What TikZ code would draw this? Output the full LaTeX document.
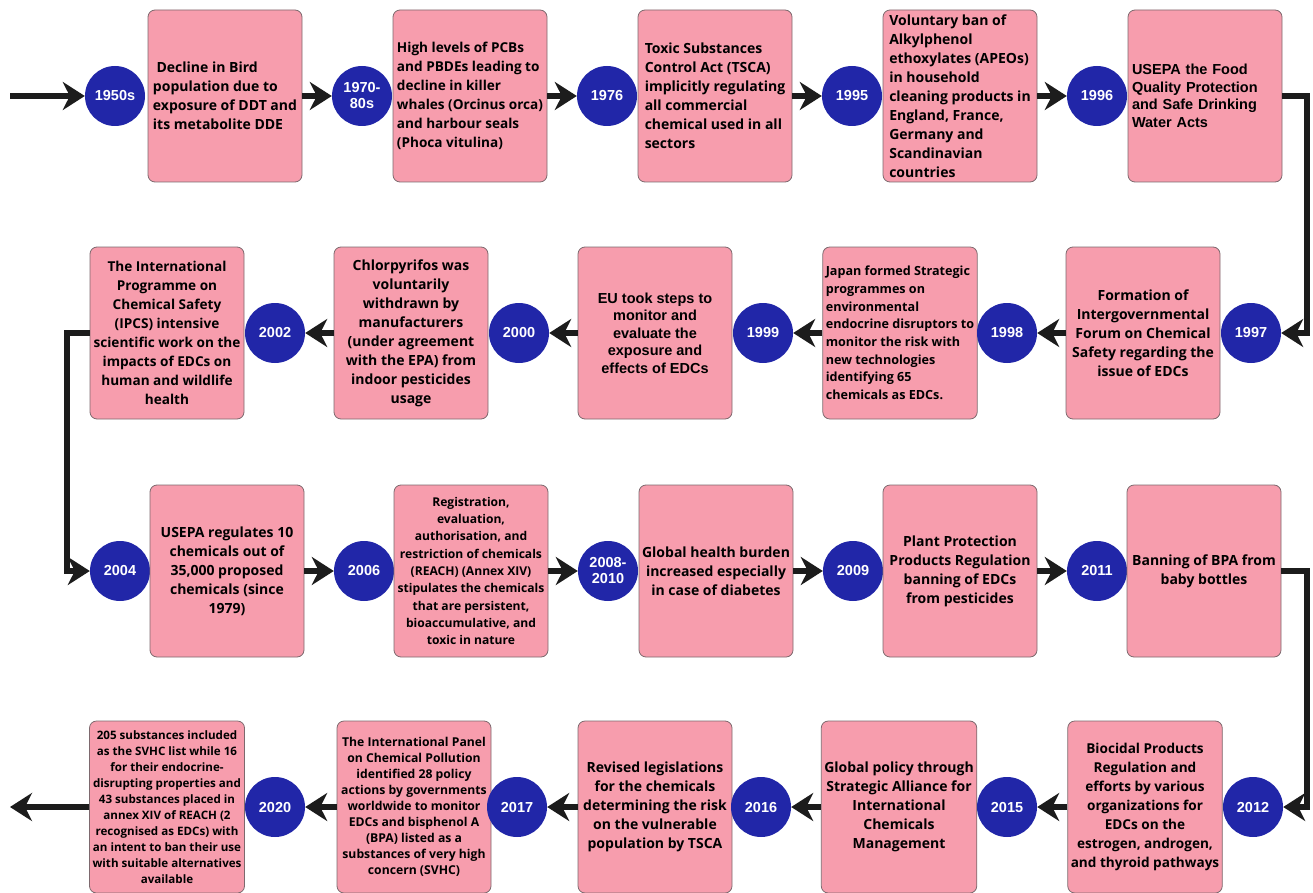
\documentclass[tikz,border=0pt]{standalone}
\usepackage{fontspec}
\setmainfont{Open Sans}
\newfontfamily\arialfont{Liberation Sans}
\usetikzlibrary{arrows.meta}
\definecolor{boxpink}{RGB}{247, 157, 173}
\definecolor{boxline}{RGB}{125, 105, 110}
\definecolor{yearblue}{RGB}{33, 38, 168}
\definecolor{flowblack}{RGB}{28, 28, 28}

\begin{document}
\begin{tikzpicture}[x=1pt, y=-1pt,
    event/.style={draw=boxline, fill=boxpink, line width=0.8pt, rounded corners=7pt,
      minimum width=154pt, minimum height=172pt, inner sep=3pt,
      align=center, font=\bfseries\fontsize{14}{19}\selectfont},
    snug/.style={font=\bfseries\fontsize{13.6}{19}\selectfont},
    small/.style={font=\bfseries\fontsize{12.2}{16}\selectfont},
    arial/.style={font=\arialfont\bfseries\fontsize{14.5}{17.5}\selectfont},
    year/.style={circle, fill=yearblue, minimum size=60pt, inner sep=0pt, text=white,
      align=center, font=\arialfont\bfseries\fontsize{14.5}{16}\selectfont},
    flow/.style={draw=flowblack, line width=5.5pt,
      -{Stealth[length=22pt, width=28pt, inset=7pt]}}]
  \useasboundingbox (0,0) rectangle (1313,893);

  \node[year] (yr1950) at (115,96) {1950s};
  \node[event, align=left] (ev1950) at (225,96) {\ Decline in Bird\\population due to\\exposure of DDT and\\its metabolite DDE};
  \node[year] (yr1970) at (362,96) {1970-\\80s};
  \node[event, snug, align=left] (ev1970) at (470,96) {High levels of PCBs\\and PBDEs leading to\\decline in killer\\whales (Orcinus orca)\\and harbour seals\\(Phoca vitulina)};
  \node[year] (yr1976) at (607,96) {1976};
  \node[event, align=left] (ev1976) at (715,96) {Toxic Substances\\Control Act (TSCA)\\implicitly regulating\\all commercial\\chemical used in all\\sectors};
  \node[year] (yr1995) at (852,96) {1995};
  \node[event, align=left] (ev1995) at (960,96) {Voluntary ban of\\Alkylphenol\\ethoxylates (APEOs)\\in household\\cleaning products in\\England, France,\\Germany and\\Scandinavian\\countries};
  \node[year] (yr1996) at (1097,96) {1996};
  \node[event, arial, align=left, text width=146pt] (ev1996) at (1205,96) {USEPA the Food\\Quality Protection\\and Safe Drinking\\Water Acts};

  \node[event, snug] (ev2002) at (167,333) {The International\\Programme on\\Chemical Safety\\(IPCS) intensive\\scientific work on the\\impacts of EDCs on\\human and wildlife\\health};
  \node[year] (yr2002) at (275,333) {2002};
  \node[event] (ev2000) at (411,333) {Chlorpyrifos was\\voluntarily\\withdrawn by\\manufacturers\\(under agreement\\with the EPA) from\\indoor pesticides\\usage};
  \node[year] (yr2000) at (519,333) {2000};
  \node[event, arial] (ev1999) at (655,333) {EU took steps to\\monitor and\\evaluate the\\exposure and\\effects of EDCs};
  \node[year] (yr1999) at (763,333) {1999};
  \node[event, align=left, font=\bfseries\fontsize{12.6}{17.7}\selectfont] (ev1998) at (900,333) {Japan formed Strategic\\programmes on\\environmental\\endocrine disruptors to\\monitor the risk with\\new technologies\\identifying 65\\chemicals as EDCs.};
  \node[year] (yr1998) at (1007,333) {1998};
  \node[event] (ev1997) at (1143,333) {Formation of\\Intergovernmental\\Forum on Chemical\\Safety regarding the\\issue of EDCs};
  \node[year] (yr1997) at (1251,333) {1997};

  \node[year] (yr2004) at (120,571) {2004};
  \node[event] (ev2004) at (227,571) {USEPA regulates 10\\chemicals out of\\35,000 proposed\\chemicals (since\\1979)};
  \node[year] (yr2006) at (364,571) {2006};
  \node[event, font=\bfseries\fontsize{12.1}{17.3}\selectfont] (ev2006) at (471,571) {Registration,\\evaluation,\\authorisation, and\\restriction of chemicals\\(REACH) (Annex XIV)\\stipulates the chemicals\\that are persistent,\\bioaccumulative, and\\toxic in nature};
  \node[year] (yr2008) at (608,571) {2008-\\2010};
  \node[event] (ev2008) at (716,571) {Global health burden\\increased especially\\in case of diabetes};
  \node[year] (yr2009) at (853,571) {2009};
  \node[event] (ev2009) at (960,571) {Plant Protection\\Products Regulation\\banning of EDCs\\from pesticides};
  \node[year] (yr2011) at (1097,571) {2011};
  \node[event] (ev2011) at (1204,571) {Banning of BPA from\\baby bottles};

  \node[event, font=\bfseries\fontsize{11.6}{16}\selectfont] (ev2020) at (167,807) {205 substances included\\as the SVHC list while 16\\for their endocrine-\\disrupting properties and\\43 substances placed in\\annex XIV of REACH (2\\recognised as EDCs) with\\an intent to ban their use\\with suitable alternatives\\available};
  \node[year] (yr2020) at (275,807) {2020};
  \node[event, small] (ev2017) at (414,807) {The International Panel\\on Chemical Pollution\\identified 28 policy\\actions by governments\\worldwide to monitor\\EDCs and bisphenol A\\(BPA) listed as a\\substances of very high\\concern (SVHC)};
  \node[year] (yr2017) at (517,807) {2017};
  \node[event] (ev2016) at (655,807) {Revised legislations\\for the chemicals\\determining the risk\\on the vulnerable\\population by TSCA};
  \node[year] (yr2016) at (761,807) {2016};
  \node[event] (ev2015) at (899,807) {Global policy through\\Strategic Alliance for\\International\\Chemicals\\Management};
  \node[year] (yr2015) at (1007,807) {2015};
  \node[event, snug] (ev2012) at (1145,807) {Biocidal Products\\Regulation and\\efforts by various\\organizations for\\EDCs on the\\estrogen, androgen,\\and thyroid pathways};
  \node[year] (yr2012) at (1253,807) {2012};

  \coordinate (start) at (10,96);
  \coordinate (finish) at (10,807);
  \coordinate (turnA) at (1307,96);
  \coordinate (turnB) at (67,333);
  \coordinate (turnC) at (1307,571);

  \draw[flow] (start) -- (yr1950);
  \draw[flow] (ev1950) -- (yr1970);
  \draw[flow] (ev1970) -- (yr1976);
  \draw[flow] (ev1976) -- (yr1995);
  \draw[flow] (ev1995) -- (yr1996);
  \draw[flow] (ev1996) -- (turnA) |- (yr1997);
  \draw[flow] (ev1997) -- (yr1998);
  \draw[flow] (ev1998) -- (yr1999);
  \draw[flow] (ev1999) -- (yr2000);
  \draw[flow] (ev2000) -- (yr2002);
  \draw[flow] (ev2002) -- (turnB) |- (yr2004);
  \draw[flow] (ev2004) -- (yr2006);
  \draw[flow] (ev2006) -- (yr2008);
  \draw[flow] (ev2008) -- (yr2009);
  \draw[flow] (ev2009) -- (yr2011);
  \draw[flow] (ev2011) -- (turnC) |- (yr2012);
  \draw[flow] (ev2012) -- (yr2015);
  \draw[flow] (ev2015) -- (yr2016);
  \draw[flow] (ev2016) -- (yr2017);
  \draw[flow] (ev2017) -- (yr2020);
  \draw[flow] (ev2020) -- (finish);
\end{tikzpicture}
\end{document}
